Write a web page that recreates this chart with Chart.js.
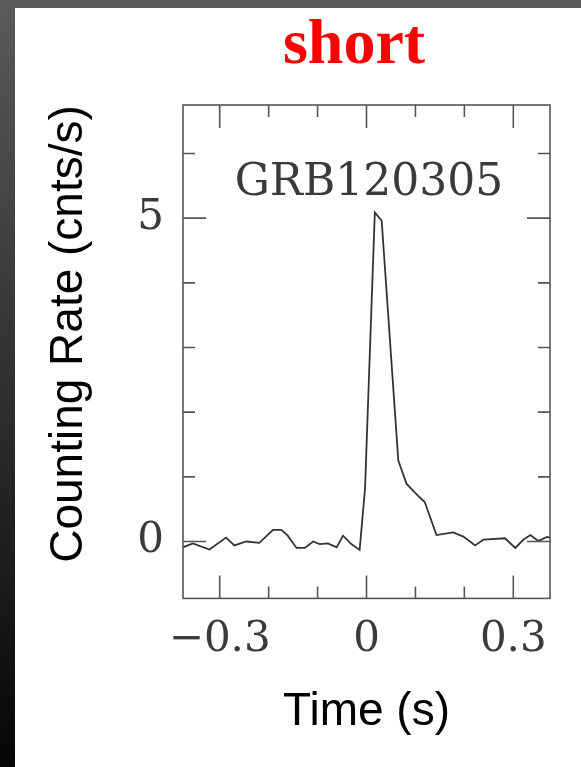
<!DOCTYPE html>
<html>
<head>
<meta charset="utf-8">
<script src="https://cdn.jsdelivr.net/npm/chart.js@4"></script>
<style>
  html, body { margin: 0; padding: 0; }
  body {
    width: 581px; height: 767px; overflow: hidden; position: relative;
    background: linear-gradient(to bottom, #5a5a5a, #060606);
  }
  #panel { position: absolute; left: 15px; top: 8px; width: 566px; height: 759px; background: #fff; }
</style>
</head>
<body>
<div id="panel"><canvas id="grb" width="566" height="759"></canvas></div>
<script>
// light curve: time (s) and counting rate (cnts/s)
const times = [-0.375, -0.355, -0.321, -0.287, -0.270, -0.246, -0.219, -0.191, -0.174, -0.161,
               -0.143, -0.126, -0.109, -0.096, -0.079, -0.061, -0.048, -0.031, -0.014, -0.003,
               0.017, 0.031, 0.065, 0.082, 0.109, 0.119, 0.143, 0.177, 0.198, 0.222,
               0.239, 0.283, 0.304, 0.321, 0.335, 0.351, 0.369, 0.375];
const rates = [-0.09, -0.03, -0.125, 0.06, -0.06, 0.0, -0.02, 0.18, 0.18, 0.09,
               -0.10, -0.10, 0.0, -0.04, -0.03, -0.09, 0.09, -0.04, -0.13, 0.82,
               5.09, 4.96, 1.25, 0.89, 0.68, 0.61, 0.10, 0.14, 0.075, -0.06,
               0.03, 0.05, -0.10, 0.03, 0.10, 0.01, 0.07, 0.06];
const xTickLabels = [-0.3, 0, 0.3];
const yTickLabels = [0, 5];
const panelTitle = 'short';
const burstName = 'GRB120305';
const yTitle = 'Counting Rate (cnts/s)';
const xTitle = 'Time (s)';

function fmt(v) {
  if (Math.abs(v) < 1e-9) return '0';
  return (v < 0 ? '\u2212' : '') + String(Math.abs(v));
}
function pick(list) {
  return v => list.some(l => Math.abs(l - v) < 1e-6) ? fmt(v) : '';
}

// box, inward ticks and the free text
const frame = {
  id: 'frame',
  afterDatasetsDraw(chart) {
    const { ctx, chartArea: a, scales: { x, y } } = chart;
    ctx.save();
    ctx.strokeStyle = '#555';
    ctx.lineWidth = 1.6;
    ctx.strokeRect(a.left, a.top, a.right - a.left, a.bottom - a.top);
    ctx.beginPath();
    x.ticks.forEach(t => {
      const px = x.getPixelForValue(t.value);
      const len = t.label ? 23 : 12;
      ctx.moveTo(px, a.bottom); ctx.lineTo(px, a.bottom - len);
      ctx.moveTo(px, a.top); ctx.lineTo(px, a.top + len);
    });
    y.ticks.forEach(t => {
      const py = y.getPixelForValue(t.value);
      const len = t.label ? 23 : 12;
      ctx.moveTo(a.left, py); ctx.lineTo(a.left + len, py);
      ctx.moveTo(a.right, py); ctx.lineTo(a.right - len, py);
    });
    ctx.stroke();

    ctx.textAlign = 'center';
    ctx.textBaseline = 'alphabetic';
    ctx.fillStyle = '#ff0000';
    ctx.font = 'bold 64px "Liberation Serif"';
    ctx.fillText(panelTitle, 339, 55);

    ctx.fillStyle = '#3a3a3a';
    ctx.font = '44px "DejaVu Serif"';
    ctx.fillText(burstName, 354, 187);

    ctx.translate(67, 326);
    ctx.rotate(-Math.PI / 2);
    ctx.fillStyle = '#000';
    ctx.font = '46px "Liberation Sans"';
    ctx.fillText(yTitle, 0, 0);
    ctx.restore();
  }
};

new Chart(document.getElementById('grb'), {
  type: 'scatter',
  data: {
    datasets: [{
      data: times.map((t, i) => ({ x: t, y: rates[i] })),
      showLine: true,
      borderColor: '#333',
      borderWidth: 1.8,
      pointRadius: 0,
      tension: 0
    }]
  },
  options: {
    responsive: false,
    animation: false,
    layout: { padding: { top: 97, right: 31, left: 0, bottom: 0 } },
    plugins: { legend: { display: false }, tooltip: { enabled: false } },
    scales: {
      x: {
        type: 'linear',
        min: -0.375,
        max: 0.375,
        grid: { display: false, drawTicks: false },
        border: { display: false },
        ticks: {
          stepSize: 0.1,
          includeBounds: false,
          autoSkip: false,
          maxRotation: 0,
          padding: 16,
          color: '#3a3a3a',
          font: { family: 'DejaVu Serif', size: 42 },
          callback: pick(xTickLabels)
        },
        title: {
          display: true,
          text: xTitle,
          color: '#000',
          font: { family: 'Liberation Sans', size: 46 },
          padding: { top: 4, bottom: 27 }
        }
      },
      y: {
        min: -0.88,
        max: 6.75,
        grid: { display: false, drawTicks: false },
        border: { display: false },
        afterFit(scale) { scale.width = 168; },
        ticks: {
          stepSize: 1,
          includeBounds: false,
          autoSkip: false,
          padding: 19,
          color: '#3a3a3a',
          font: { family: 'DejaVu Serif', size: 42 },
          callback: pick(yTickLabels)
        }
      }
    }
  },
  plugins: [frame]
});
</script>
</body>
</html>
